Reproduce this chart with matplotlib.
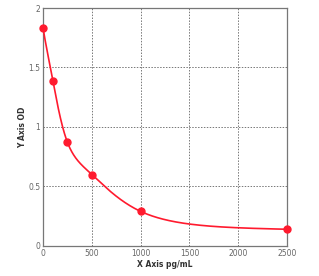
import numpy as np
import matplotlib
matplotlib.use("Agg")
import matplotlib.pyplot as plt

# standard curve readings
conc = [0, 100, 250, 500, 1000, 2500]
od = [1.83, 1.39, 0.87, 0.60, 0.29, 0.14]

x_ticks = [0, 500, 1000, 1500, 2000, 2500]
y_ticks = [0, 0.5, 1, 1.5, 2]


def natural_spline(x, y, xs):
    x = np.asarray(x, float)
    y = np.asarray(y, float)
    n = len(x)
    h = np.diff(x)
    A = np.zeros((n, n))
    rhs = np.zeros(n)
    A[0, 0] = A[-1, -1] = 1
    for i in range(1, n - 1):
        A[i, i - 1] = h[i - 1]
        A[i, i] = 2 * (h[i - 1] + h[i])
        A[i, i + 1] = h[i]
        rhs[i] = 3 * ((y[i + 1] - y[i]) / h[i] - (y[i] - y[i - 1]) / h[i - 1])
    c = np.linalg.solve(A, rhs)
    b = (y[1:] - y[:-1]) / h - h * (2 * c[:-1] + c[1:]) / 3
    d = (c[1:] - c[:-1]) / (3 * h)
    idx = np.clip(np.searchsorted(x, xs) - 1, 0, n - 2)
    t = xs - x[idx]
    return y[idx] + b[idx] * t + c[idx] * t**2 + d[idx] * t**3


# smooth the curve on a log(x + k) scale, then draw it back on linear x
k = 150.0
xs = np.linspace(conc[0], conc[-1], 800)
ys = natural_spline(np.log(np.array(conc) + k), od, np.log(xs + k))

fig = plt.figure(figsize=(3.19, 2.76), dpi=100)
ax = fig.add_axes([0.135, 0.109, 0.765, 0.862])

ax.plot(xs, ys, color="#ff1a2e", lw=1.2, zorder=3)
ax.plot(conc, od, "o", color="#ff1a2e", ms=5, zorder=4, clip_on=False)

ax.set_xlim(0, 2500)
ax.set_ylim(0, 2)
ax.set_xticks(x_ticks)
ax.set_yticks(y_ticks)
ax.set_yticklabels(["0", "0.5", "1", "1.5", "2"])

ax.grid(True, color="#777777", linestyle=(0, (1.5, 1.5)), lw=0.7)
for s in ax.spines.values():
    s.set_color("#777777")
    s.set_linewidth(0.9)
ax.tick_params(length=0, pad=2, labelsize=5.5, labelcolor="#666666")

ax.set_xlabel("X Axis pg/mL", fontsize=5.5, fontweight="bold", color="#333333", labelpad=1.5)
ax.set_ylabel("Y Axis OD", fontsize=5.5, fontweight="bold", color="#333333", labelpad=0.5)

fig.savefig("out.png", dpi=100)
plt.close(fig)
